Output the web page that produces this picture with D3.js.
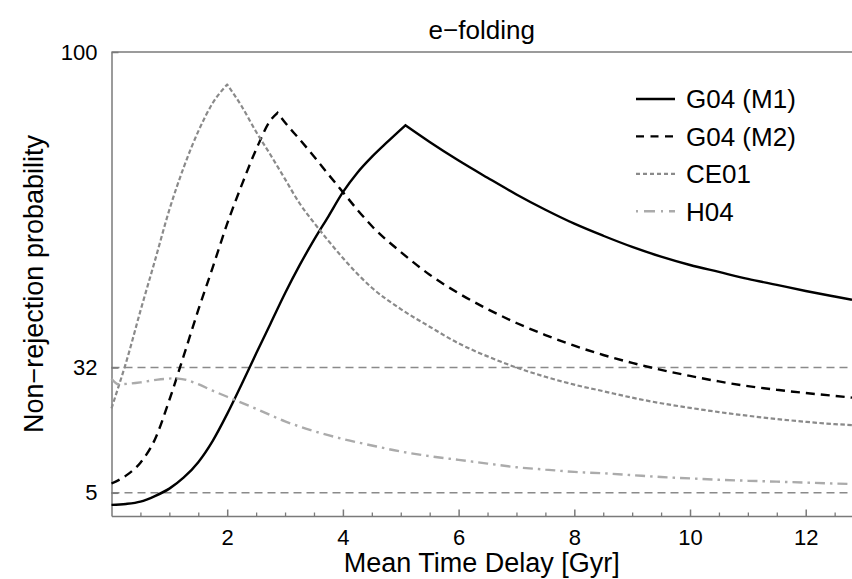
<!DOCTYPE html>
<html>
<head>
<meta charset="utf-8">
<script src="https://cdn.jsdelivr.net/npm/d3@7"></script>
<style>
  html, body { margin: 0; padding: 0; background: #fff; }
  svg { display: block; font-family: "Liberation Sans", Arial, Helvetica, sans-serif; }
</style>
</head>
<body>
<svg id="chart" width="852" height="579"></svg>
<script>
// Mean time delay [Gyr] and non-rejection probability [%] for each model
const g04m1Delay = [0, 0.25, 0.5, 0.75, 1, 1.25, 1.5, 1.75, 2, 2.25, 2.5, 2.75, 3, 3.25, 3.5, 3.75, 4, 4.25, 4.5, 4.75, 5.08,
                    5.5, 6, 6.5, 7, 7.5, 8, 8.5, 9, 9.5, 10, 10.5, 11, 11.5, 12, 12.5, 12.8];
const g04m1Prob  = [2.4, 2.6, 3.1, 4.3, 5.9, 8.3, 11.6, 16.2, 22, 28.4, 35, 41.5, 48, 54, 59.5, 64.6, 69.8, 74, 77.4, 80.4, 84.2,
                    80.6, 76.6, 72.9, 69.3, 66, 63, 60.4, 58, 55.9, 54.1, 52.6, 51.1, 49.8, 48.5, 47.3, 46.6];

const g04m2Delay = [0, 0.25, 0.5, 0.75, 1, 1.25, 1.5, 1.75, 2, 2.25, 2.5, 2.75, 2.87,
                    3, 3.25, 3.5, 3.75, 4, 4.25, 4.5, 5, 5.5, 6, 6.5, 7, 7.5, 8, 8.5, 9, 9.5, 10, 10.5, 11, 11.5, 12, 12.5, 12.8];
const g04m2Prob  = [7.0, 8.7, 11.5, 16.5, 25, 34.6, 44.4, 53.6, 63, 71.3, 79, 85.3, 86.9,
                    84.8, 81.2, 77.5, 73.6, 69.8, 66, 62.5, 56.9, 52, 48, 44.6, 41.6, 39, 36.7, 34.7, 33, 31.5, 30.2, 29, 28, 27.2, 26.5, 25.9, 25.5];

const ce01Delay = [0, 0.15, 0.25, 0.5, 0.75, 1, 1.25, 1.5, 1.75, 2,
                   2.25, 2.5, 2.75, 3, 3.25, 3.5, 3.75, 4, 4.5, 5, 5.5, 6, 6.5, 7, 7.5, 8, 8.5, 9, 9.5, 10, 10.5, 11, 11.5, 12, 12.5, 12.8];
const ce01Prob  = [23.2, 29, 33, 44.2, 55, 66, 75.2, 82.9, 89, 93,
                   88.3, 82.8, 77.8, 72.6, 67.4, 63.2, 59.3, 55.6, 49.2, 44.6, 40.8, 37.2, 34.4, 32, 30, 28.3, 26.9, 25.5, 24.3, 23.3, 22.4, 21.6, 20.9, 20.3, 19.8, 19.6];

const h04Delay = [0, 0.12, 0.5, 0.8, 1.1, 1.3, 1.5, 1.75, 2, 2.5, 3, 3.5, 4, 4.5, 5, 5.5, 6, 6.5, 7, 7.5, 8, 8.5, 9, 9.5, 10, 10.5, 11, 11.5, 12, 12.5, 12.8];
const h04Prob  = [29.6, 28.4, 28.8, 29.4, 29.7, 29.3, 28.4, 27, 25.7, 23.1, 20.4, 18.3, 16.6, 15.2, 13.9, 12.9, 12.1, 11.3, 10.5, 10, 9.5, 9.2, 8.8, 8.4, 8.1, 7.8, 7.6, 7.4, 7.2, 7.0, 6.9];

const seriesNames = ["G04 (M1)", "G04 (M2)", "CE01", "H04"];
const xTicks = [2, 4, 6, 8, 10, 12];
const yTicks = [5, 32, 100];
const confidenceLevels = [32, 5];

const svg = d3.select("#chart");
const plot = { left: 111.5, right: 852, top: 52, bottom: 516 };

const x = d3.scaleLinear().domain([0, 12.8]).range([plot.left, plot.right]);
const y = d3.scaleLinear().domain([0, 100]).range([plot.bottom, plot.top]);

const axisColor = "#7a7a7a";

// Horizontal reference levels
svg.append("g").selectAll("line").data(confidenceLevels).join("line")
  .attr("x1", x(0)).attr("x2", x(12.8))
  .attr("y1", d => y(d)).attr("y2", d => y(d))
  .attr("stroke", "#8a8a8a").attr("stroke-width", 1.5)
  .attr("stroke-dasharray", "8,5");

// Minor ticks on the time axis
const minor = d3.range(0.5, 12.8, 0.5).filter(v => v % 2 !== 0);
svg.append("g")
  .attr("transform", `translate(0,${plot.bottom})`)
  .call(d3.axisBottom(x).tickValues(minor).tickSize(-3.5).tickSizeOuter(0).tickFormat(""))
  .call(g => g.select(".domain").remove())
  .call(g => g.selectAll("line").attr("stroke", axisColor).attr("stroke-width", 1.3));

// Time axis
svg.append("g")
  .attr("transform", `translate(0,${plot.bottom})`)
  .call(d3.axisBottom(x).tickValues(xTicks).tickSize(-6.5).tickSizeOuter(0).tickPadding(13).tickFormat(d3.format("d")))
  .call(g => g.select(".domain").attr("stroke", axisColor).attr("stroke-width", 1.5))
  .call(g => g.selectAll("line").attr("stroke", axisColor).attr("stroke-width", 1.5))
  .call(g => g.selectAll("text").attr("fill", "#000").style("font-size", "22px"));

// Probability axis
svg.append("g")
  .attr("transform", `translate(${plot.left},0)`)
  .call(d3.axisLeft(y).tickValues(yTicks).tickSize(-7).tickSizeOuter(0).tickPadding(14).tickFormat(d3.format("d")))
  .call(g => g.select(".domain").attr("stroke", axisColor).attr("stroke-width", 1.5))
  .call(g => g.selectAll("line").attr("stroke", axisColor).attr("stroke-width", 1.5))
  .call(g => g.selectAll("text").attr("fill", "#000").style("font-size", "22px"));

// Top frame line
svg.append("line")
  .attr("x1", plot.left).attr("x2", plot.right)
  .attr("y1", y(100)).attr("y2", y(100))
  .attr("stroke", axisColor).attr("stroke-width", 1.5);

// Curves: each is split at its maximum so the peak stays pointed
const styles = [
  { color: "#000",    width: 2.4, dash: null },
  { color: "#000",    width: 2.4, dash: "9,6" },
  { color: "#8a8a8a", width: 2.2, dash: "4.5,2.5" },
  { color: "#ababab", width: 2.4, dash: "10,5,2.5,5" }
];
const series = [
  [g04m1Delay, g04m1Prob],
  [g04m2Delay, g04m2Prob],
  [ce01Delay, ce01Prob],
  [h04Delay, h04Prob]
];
const line = d3.line().x(d => x(d[0])).y(d => y(d[1])).curve(d3.curveMonotoneX);

series.forEach(([xs, ys], i) => {
  const pts = xs.map((v, k) => [v, ys[k]]);
  const peak = d3.maxIndex(ys);
  const rise = pts.slice(0, peak + 1);
  const fall = pts.slice(peak);
  const d = (rise.length > 1 ? line(rise) : "") + (fall.length > 1 ? line(fall).replace(/^M[^LC]*/, "L" + x(pts[peak][0]) + "," + y(pts[peak][1])) : "");
  svg.append("path")
    .attr("d", d)
    .attr("fill", "none")
    .attr("stroke", styles[i].color)
    .attr("stroke-width", styles[i].width)
    .attr("stroke-linejoin", "miter")
    .attr("stroke-dasharray", styles[i].dash);
});

// Legend
const legend = svg.append("g");
seriesNames.forEach((name, i) => {
  const ly = 99 + i * 37.4;
  legend.append("line")
    .attr("x1", 636).attr("x2", 675).attr("y1", ly).attr("y2", ly)
    .attr("stroke", styles[i].color)
    .attr("stroke-width", styles[i].width)
    .attr("stroke-dasharray", i === 1 ? "8,6.5" : i === 2 ? "4,3" : i === 3 ? "2,6,11,6" : null);
  legend.append("text")
    .attr("x", 686).attr("y", ly).attr("dy", "0.36em")
    .style("font-size", "26px").attr("fill", "#000")
    .text(name);
});

// Title and axis labels
svg.append("text")
  .attr("x", (plot.left + plot.right) / 2).attr("y", 39)
  .attr("text-anchor", "middle").style("font-size", "26px")
  .text("e\u2212folding");

svg.append("text")
  .attr("x", (plot.left + plot.right) / 2).attr("y", 572)
  .attr("text-anchor", "middle").style("font-size", "27px")
  .text("Mean Time Delay [Gyr]");

svg.append("text")
  .attr("transform", `translate(43,${(plot.top + plot.bottom) / 2}) rotate(-90)`)
  .attr("text-anchor", "middle").style("font-size", "27px")
  .text("Non\u2212rejection probability");
</script>
</body>
</html>
